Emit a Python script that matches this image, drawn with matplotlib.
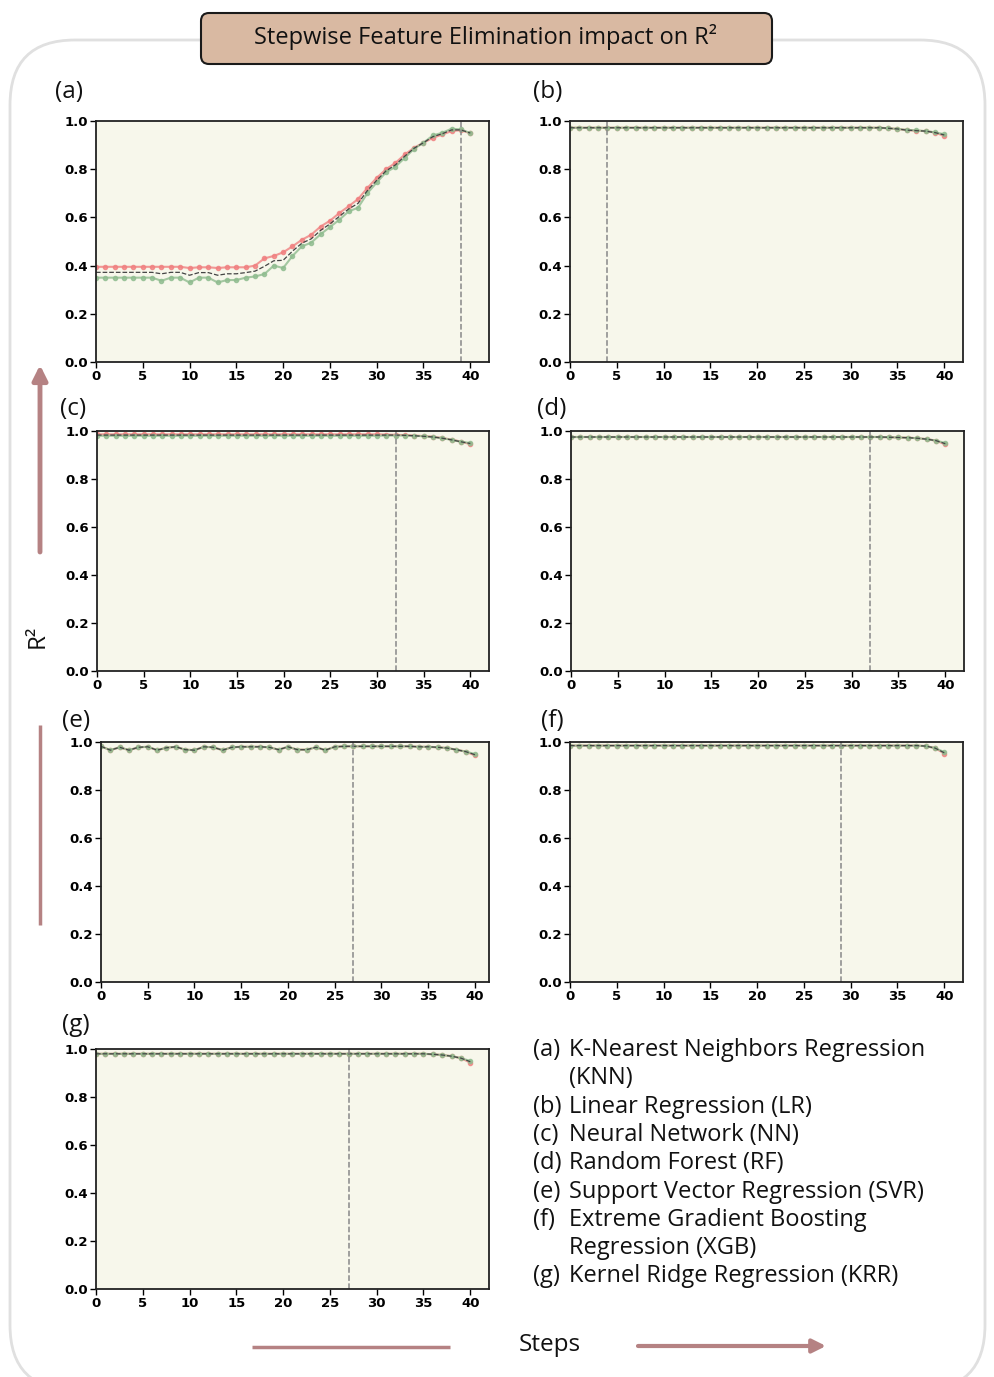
"""
Stepwise feature elimination: R^2 per elimination step for seven regressors.
Saves out.png (995x1377 px).
"""

import numpy as np
import matplotlib

matplotlib.use("Agg")
import matplotlib.pyplot as plt
from matplotlib.patches import FancyBboxPatch

plt.rcParams["font.family"] = ["DejaVu Sans"]

steps = np.arange(41)

# --- Data -----------------------------------------------------------------
# (a) KNN
knn_red = [0.395, 0.395, 0.395, 0.395, 0.395, 0.395, 0.395, 0.395, 0.395, 0.395,
           0.390, 0.393, 0.393, 0.390, 0.393, 0.393, 0.393, 0.400, 0.430, 0.440,
           0.455, 0.480, 0.507, 0.528, 0.562, 0.586, 0.618, 0.646, 0.676, 0.722,
           0.764, 0.800, 0.826, 0.861, 0.889, 0.910, 0.930, 0.944, 0.958, 0.962,
           0.949]
knn_green = [0.350, 0.350, 0.350, 0.350, 0.350, 0.350, 0.350, 0.337, 0.350, 0.350,
             0.330, 0.350, 0.350, 0.330, 0.340, 0.340, 0.350, 0.355, 0.365, 0.400,
             0.390, 0.440, 0.480, 0.495, 0.530, 0.560, 0.590, 0.625, 0.640, 0.700,
             0.745, 0.787, 0.810, 0.847, 0.885, 0.910, 0.940, 0.951, 0.968, 0.965,
             0.950]
knn_mean = [0.372, 0.372, 0.372, 0.372, 0.372, 0.372, 0.372, 0.366, 0.372, 0.372,
            0.360, 0.371, 0.371, 0.360, 0.366, 0.366, 0.371, 0.377, 0.397, 0.420,
            0.422, 0.460, 0.493, 0.511, 0.546, 0.573, 0.604, 0.635, 0.658, 0.711,
            0.754, 0.793, 0.818, 0.854, 0.887, 0.910, 0.935, 0.947, 0.963, 0.963,
            0.950]

# (b) LR
lr_red = [0.972] * 34 + [0.970, 0.967, 0.962, 0.960, 0.958, 0.952, 0.938]
lr_green = [0.972] * 34 + [0.970, 0.967, 0.963, 0.961, 0.958, 0.953, 0.945]
lr_mean = [0.972] * 34 + [0.970, 0.967, 0.962, 0.960, 0.958, 0.952, 0.942]

# (c) NN
nn_red = [0.986] * 31 + [0.985, 0.984, 0.983, 0.981, 0.979, 0.976, 0.971, 0.964, 0.956, 0.945]
nn_green = [0.980] * 31 + [0.981, 0.981, 0.981, 0.980, 0.978, 0.975, 0.970, 0.963, 0.955, 0.950]
nn_mean = [0.983] * 31 + [0.983, 0.983, 0.982, 0.980, 0.978, 0.975, 0.970, 0.963, 0.955, 0.948]

# (d) RF
rf_red = [0.975] * 33 + [0.975, 0.974, 0.973, 0.972, 0.970, 0.966, 0.960, 0.944]
rf_green = [0.975] * 33 + [0.975, 0.974, 0.973, 0.972, 0.970, 0.966, 0.960, 0.950]
rf_mean = [0.975] * 33 + [0.975, 0.974, 0.973, 0.972, 0.970, 0.966, 0.960, 0.947]

# (e) SVR
svr_green = [0.982, 0.966, 0.978, 0.966, 0.978, 0.980, 0.966, 0.976, 0.980, 0.968,
             0.966, 0.980, 0.978, 0.966, 0.978, 0.980, 0.980, 0.980, 0.978, 0.968,
             0.980, 0.968, 0.968, 0.978, 0.966, 0.980, 0.982, 0.982, 0.982, 0.982,
             0.982, 0.982, 0.982, 0.982, 0.980, 0.980, 0.978, 0.975, 0.968, 0.960,
             0.950]
svr_red = svr_green[:-1] + [0.944]
svr_mean = svr_green[:-1] + [0.947]

# (f) XGB
xgb_red = [0.985] * 38 + [0.983, 0.975, 0.952]
xgb_green = [0.985] * 38 + [0.983, 0.975, 0.958]
xgb_mean = [0.985] * 38 + [0.983, 0.975, 0.955]

# (g) KRR
krr_red = [0.980] * 36 + [0.978, 0.975, 0.970, 0.962, 0.943]
krr_green = [0.980] * 36 + [0.978, 0.975, 0.970, 0.962, 0.950]
krr_mean = [0.980] * 36 + [0.978, 0.975, 0.970, 0.962, 0.947]

panel_tags = ["(a)", "(b)", "(c)", "(d)", "(e)", "(f)", "(g)"]
best_step = [39, 4, 32, 32, 27, 29, 27]
reds = [knn_red, lr_red, nn_red, rf_red, svr_red, xgb_red, krr_red]
greens = [knn_green, lr_green, nn_green, rf_green, svr_green, xgb_green, krr_green]
means = [knn_mean, lr_mean, nn_mean, rf_mean, svr_mean, xgb_mean, krr_mean]

model_tags = ["(a)", "", "(b)", "(c)", "(d)", "(e)", "(f)", "", "(g)"]
model_names = ["K-Nearest Neighbors Regression", "(KNN)", "Linear Regression (LR)",
               "Neural Network (NN)", "Random Forest (RF)",
               "Support Vector Regression (SVR)", "Extreme Gradient Boosting",
               "Regression (XGB)", "Kernel Ridge Regression (KRR)"]

# --- Layout (pixel boxes of each panel: left, top, right, bottom) ---------
W, H = 995, 1377
boxes = [(96, 121, 489, 362), (570, 121, 963, 362),
         (97, 431, 489, 671), (571, 431, 964, 671),
         (101, 742, 489, 982), (570, 742, 963, 982),
         (96, 1049, 489, 1289)]
tag_pos = [(55, 92), (533, 92), (60, 409), (537, 409), (62, 721), (541, 721), (62, 1025)]

TEXT_FONT = ["Open Sans", "DejaVu Sans"]
TEXT_C = "#111111"
ARROW_C = "#b58283"
RED = "#f08080"
GREEN = "#8fbc8f"

fig = plt.figure(figsize=(W / 100, H / 100), dpi=100)

# overlay in pixel coordinates for the frame, title and arrows
bg = fig.add_axes([0, 0, 1, 1], zorder=-1)
bg.set_xlim(0, W)
bg.set_ylim(H, 0)
bg.axis("off")

bg.add_patch(FancyBboxPatch((10, 40), 975, 1350,
                            boxstyle="round,pad=0,rounding_size=65",
                            fc="white", ec="#e0e0e0", lw=2))
bg.add_patch(FancyBboxPatch((201, 13), 571, 51,
                            boxstyle="round,pad=0,rounding_size=8",
                            fc="#d9b9a2", ec="#1a1a1a", lw=1.5))
bg.text(486, 37, "Stepwise Feature Elimination impact on R²", ha="center",
        va="center", fontsize=17, family=TEXT_FONT, color=TEXT_C)

arrow_kw = dict(arrowstyle="-|>", color=ARROW_C, lw=3.5, mutation_scale=22,
                shrinkA=0, shrinkB=0)
bg.annotate("", xy=(40, 365), xytext=(40, 552), arrowprops=arrow_kw)
bg.plot([40, 40], [725, 925], color=ARROW_C, lw=2.5, solid_capstyle="butt")
bg.text(38, 636, "R²", rotation=90, ha="center", va="center", fontsize=17.5,
        family=TEXT_FONT, color=TEXT_C)

bg.plot([252, 450], [1347, 1347], color=ARROW_C, lw=2.5, solid_capstyle="butt")
bg.annotate("", xy=(826, 1346), xytext=(638, 1346),
            arrowprops=dict(arrow_kw, lw=3, mutation_scale=20))
bg.text(550, 1345, "Steps", ha="center", va="center", fontsize=17.5,
        family=TEXT_FONT, color=TEXT_C)

for (x, y), t in zip(tag_pos, panel_tags):
    bg.text(x, y, t, ha="left", va="center", fontsize=17.5, family=TEXT_FONT,
            color=TEXT_C)

# model key
for i, (t, name) in enumerate(zip(model_tags, model_names)):
    y = 1050 + i * 28.3
    bg.text(533, y, t, ha="left", va="center", fontsize=17, family=TEXT_FONT,
            color=TEXT_C)
    bg.text(569, y, name, ha="left", va="center", fontsize=17,
            family=TEXT_FONT, color=TEXT_C)

# --- Panels ---------------------------------------------------------------
for k, (l, t, r, b) in enumerate(boxes):
    ax = fig.add_axes([l / W, 1 - b / H, (r - l) / W, (b - t) / H])
    ax.set_facecolor("#f7f7eb")
    ax.plot(steps, reds[k], "o-", color=RED, lw=1.5, ms=3, alpha=0.8)
    ax.plot(steps, greens[k], "o-", color=GREEN, lw=1.5, ms=3, alpha=0.8)
    ax.plot(steps, means[k], "--", color="#444444", lw=0.9)
    ax.axvline(best_step[k], color="#888888", ls="--", lw=1.1)

    ax.set_xlim(0, 42 if k != 4 else 41.5)
    ax.set_ylim(0, 1.0)
    ax.set_xticks(range(0, 41, 5))
    ax.set_yticks(np.arange(0, 1.01, 0.2))
    ax.yaxis.set_major_formatter(matplotlib.ticker.FormatStrFormatter("%.1f"))
    ax.tick_params(labelsize=9.5, length=4, width=1, pad=1.5)
    for lab in ax.get_xticklabels() + ax.get_yticklabels():
        lab.set_fontweight("bold")
    for s in ax.spines.values():
        s.set_linewidth(1.3)
        s.set_color("#222222")

fig.savefig("out.png", dpi=100)
